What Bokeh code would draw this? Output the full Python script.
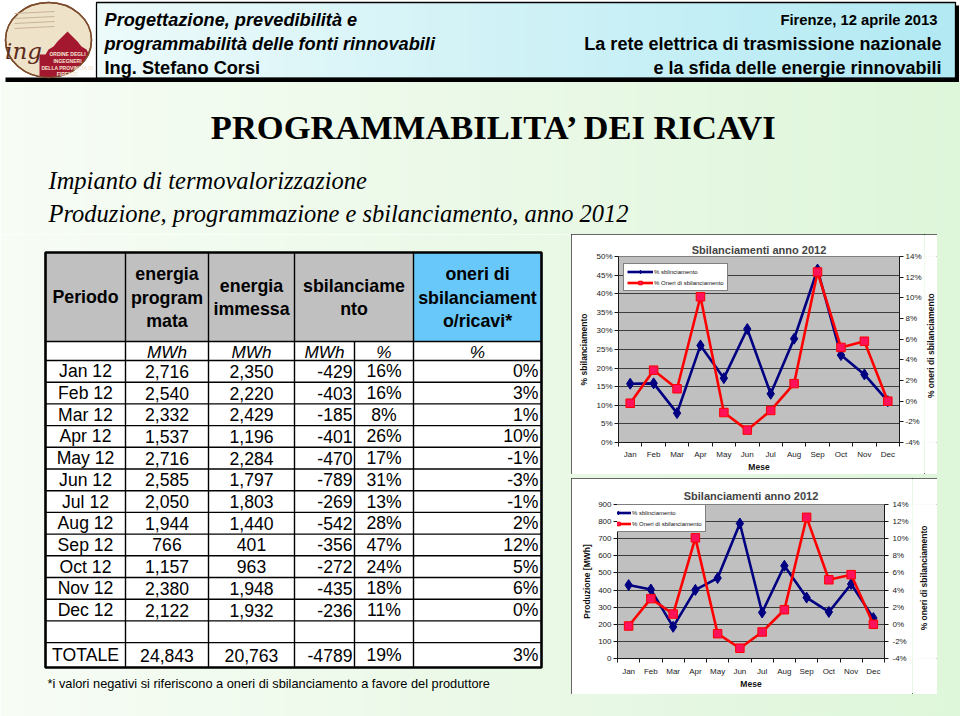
import numpy as np
from bokeh.plotting import figure
from bokeh.models import (Range1d, LinearAxis, FixedTicker, PrintfTickFormatter,
                          Legend, LegendItem, Spacer)
from bokeh.layouts import row, column
from bokeh.core.properties import value
from bokeh.embed import file_html
from bokeh.resources import INLINE

# ---------------- data ----------------
months = ["Jan", "Feb", "Mar", "Apr", "May", "Jun", "Jul", "Aug", "Sep", "Oct", "Nov", "Dec"]
periods = ["Jan 12", "Feb 12", "Mar 12", "Apr 12", "May 12", "Jun 12",
           "Jul 12", "Aug 12", "Sep 12", "Oct 12", "Nov 12", "Dec 12"]
energia_programmata = [2716, 2540, 2332, 1537, 2716, 2585, 2050, 1944, 766, 1157, 2380, 2122]
energia_immessa = [2350, 2220, 2429, 1196, 2284, 1797, 1803, 1440, 401, 963, 1948, 1932]
sbilanciamento_mwh = [-429, -403, -185, -401, -470, -789, -269, -542, -356, -272, -435, -236]
sbilanciamento_pct = [16, 16, 8, 26, 17, 31, 13, 28, 47, 24, 18, 11]
oneri_pct = [0, 3, 1, 10, -1, -3, -1, 2, 12, 5, 6, 0]
totale_row = ["TOTALE", "24,843", "20,763", "-4789", "19%", "3%"]

# series
chart_sbil_pct = [15.8, 15.9, 7.9, 26.1, 17.3, 30.5, 13.1, 27.9, 46.5, 23.5, 18.3, 11.1]
chart_oneri_pct = [-0.2, 3.0, 1.2, 10.1, -1.1, -2.8, -0.9, 1.7, 12.5, 5.2, 5.8, 0.0]
chart_sbil_mwh = [429, 403, 185, 401, 470, 789, 269, 542, 356, 272, 435, 236]

ticks_pct_left = [0, 5, 10, 15, 20, 25, 30, 35, 40, 45, 50]
ticks_mwh = [0, 100, 200, 300, 400, 500, 600, 700, 800, 900]
ticks_oneri = [-4, -2, 0, 2, 4, 6, 8, 10, 12, 14]

# ---------------- page geometry ----------------
SANS = "Liberation Sans"
SERIF = "Liberation Serif"
W, H = 960, 716
BG_L = (247, 252, 245)
BG_R = (222, 246, 218)


def fpx(v):
    return f"{v:.2f}px"


def hexc(c):
    return "#%02x%02x%02x" % tuple(int(round(v)) for v in c)


def mix(c0, c1, t):
    return tuple(a * (1 - t) + b * t for a, b in zip(c0, c1))


def page_fig(x0, x1, y0, y1, flip=True):
    yr = Range1d(y1, y0) if flip else Range1d(y0, y1)
    p = figure(width=int(round(x1 - x0)), height=int(round(y1 - y0)),
               x_range=Range1d(x0, x1), y_range=yr,
               output_backend="svg", toolbar_location=None, tools="",
               x_axis_location=None, y_axis_location=None, min_border=0,
               border_fill_color="white", background_fill_color="white")
    p.grid.visible = False
    p.outline_line_color = None
    return p


def gradient(p, x0, x1, y0, y1, c0, c1, t0, t1, n=80):
    edges = np.linspace(x0, x1, n + 1)
    step = (x1 - x0) / n
    mids = (edges[:-1] + edges[1:]) / 2
    ts = t0 + (t1 - t0) * (mids - x0) / (x1 - x0)
    cols = [hexc(mix(c0, c1, t)) for t in ts]
    p.quad(left=edges[:-1], right=np.minimum(edges[1:] + step * 0.6, x1),
           top=y0, bottom=y1, fill_color=cols, line_color=None)


def txt(p, xs, ys, texts, size, align="left", style="normal", font=SANS,
        color="black", baseline="middle", angle=0.0):
    p.text(x=xs, y=ys, text=texts, text_font=value(font), text_font_size=fpx(size),
           text_font_style=style, text_align=align, text_baseline=baseline,
           text_color=color, angle=angle)


# ---------------- top figure: header + titles ----------------
TOP_H = 234
top = page_fig(0, W, 0, TOP_H)
gradient(top, 0, W, 80, TOP_H, BG_L, BG_R, 0.0, 1.0)

# header box
gradient(top, 96, 955, 2, 78, (236, 250, 250), (178, 233, 243), 0.0, 1.0, n=60)
top.quad(left=[955], right=[958.5], top=[5], bottom=[81], fill_color="black", line_color=None)
top.quad(left=[5], right=[958.5], top=[77], bottom=[81.5], fill_color="black", line_color=None)
top.quad(left=[96], right=[955], top=[2], bottom=[78], fill_color=None,
         line_color="black", line_width=1.3)

# logo
LX, LY, LA, LB = 48.0, 39.5, 43.0, 37.5
top.ellipse(x=[LX], y=[LY], width=[2 * LA], height=[2 * LB], fill_color="#eee2c9",
            line_color="#7b4b2b", line_width=1.5)
t_a = np.arcsin(16.0 / LB)
t_b = np.arccos(-9.0 / LA)
tt = np.linspace(t_a, t_b, 25)
arc_x = list(LX + LA * np.cos(tt))
arc_y = list(LY + LB * np.sin(tt))
dome_x = [39, 39, 45, 48, 53, 57, 61, 67, 73, 77, 81, 86, 88]
dome_y = [arc_y[-1], 54, 54, 49, 46, 41, 37, 31, 37, 41, 46, 49, 53]
top.patch(x=arc_x + dome_x, y=arc_y + dome_y, fill_color="#a3172f", line_color=None)
top.ellipse(x=[LX], y=[LY], width=[2 * LA], height=[2 * LB], fill_color=None,
            line_color="#7b4b2b", line_width=1.5)
for yy in [13, 18, 23, 28]:
    top.line(x=[14, 54], y=[yy, yy - 2], line_color="#c9b596", line_width=1)
txt(top, [23], [50], ["ing"], 23, align="center", style="italic", font="DejaVu Serif",
    color="#5b2a1b")
txt(top, [67, 67, 67, 67], [53, 60.5, 67, 73.5],
    ["ORDINE DEGLI", "INGEGNERI", "DELLA PROVINCIA DI", "FIRENZE"], 5.0,
    align="center", style="bold", color="#f3e7d4")

# header texts
txt(top, [104, 104], [19, 43],
    ["Progettazione, prevedibilità e", "programmabilità delle fonti rinnovabili"],
    18.2, style="bold italic")
txt(top, [104], [67], ["Ing. Stefano Corsi"], 18.2, style="bold")
txt(top, [937], [19], ["Firenze, 12 aprile 2013"], 14.8, align="right", style="bold")
txt(top, [941, 941], [43, 67],
    ["La rete elettrica di trasmissione nazionale", "e la sfida delle energie rinnovabili"],
    18.0, align="right", style="bold")

# slide titles
txt(top, [494], [126], ["PROGRAMMABILITA\u2019 DEI RICAVI"], 34.5, align="center",
    style="bold", font=SERIF)
txt(top, [48], [180], ["Impianto di termovalorizzazione"], 24.5, style="italic", font=SERIF)
txt(top, [48], [213], ["Produzione, programmazione e sbilanciamento, anno 2012"], 24.5,
    style="italic", font=SERIF)

# ---------------- left figure: table ----------------
LEFT_W = 571
left = page_fig(0, LEFT_W, TOP_H, H)
gradient(left, 0, LEFT_W, TOP_H, H, BG_L, BG_R, 0.0, LEFT_W / W, n=50)

cols = [45, 125, 208, 294, 354, 413, 541]
y_head_top, y_head_bot, y_units_bot = 252.0, 341.0, 360.0
row_h = 21.7
n_rows = len(periods)
row_edges = [y_units_bot + i * row_h for i in range(n_rows + 1)]
y_empty_bot = row_edges[-1] + row_h
y_bottom = 667.0
row_centers = [(row_edges[i] + row_edges[i + 1]) / 2 for i in range(n_rows)]
col_c = [(cols[i] + cols[i + 1]) / 2 for i in range(6)]
sbil_c = (cols[3] + cols[5]) / 2

left.quad(left=[cols[0]], right=[cols[6]], top=[y_head_bot], bottom=[y_bottom],
          fill_color="white", line_color=None)
left.quad(left=[cols[0]], right=[cols[5]], top=[y_head_top], bottom=[y_head_bot],
          fill_color="#c0c0c0", line_color=None)
left.quad(left=[cols[5]], right=[cols[6]], top=[y_head_top], bottom=[y_head_bot],
          fill_color="#68c8fa", line_color=None)

h_lines = [y_head_bot, y_units_bot] + row_edges[1:] + [y_empty_bot]
left.segment(x0=[cols[0]] * len(h_lines), x1=[cols[6]] * len(h_lines), y0=h_lines,
             y1=h_lines, line_color="black", line_width=1.4)
v_cols = [cols[1], cols[2], cols[3], cols[5]]
left.segment(x0=v_cols, x1=v_cols, y0=[y_head_top] * 4, y1=[y_bottom] * 4,
             line_color="black", line_width=1.4)
left.segment(x0=[cols[4]], x1=[cols[4]], y0=[y_head_bot], y1=[y_bottom],
             line_color="black", line_width=1.4)
left.quad(left=[cols[0]], right=[cols[6]], top=[y_head_top], bottom=[y_bottom],
          fill_color=None, line_color="black", line_width=2.6)

# header text
HB = 17.8
txt(left, [col_c[0]], [296.5], ["Periodo"], HB, align="center", style="bold")
txt(left, [col_c[1]] * 3, [273.5, 297, 320.5], ["energia", "program", "mata"], HB,
    align="center", style="bold")
txt(left, [col_c[2]] * 2, [285, 308.5], ["energia", "immessa"], HB, align="center",
    style="bold")
txt(left, [sbil_c] * 2, [285, 308.5], ["sbilanciame", "nto"], HB, align="center",
    style="bold")
txt(left, [col_c[5]] * 3, [273.5, 297, 320.5], ["oneri di", "sbilanciament", "o/ricavi*"],
    HB, align="center", style="bold")

ym = (y_head_bot + y_units_bot) / 2 + 0.5
txt(left, [col_c[1], col_c[2], col_c[3], col_c[4], col_c[5]], [ym] * 5,
    ["MWh", "MWh", "MWh", "%", "%"], 17.2, align="center", style="italic")

DS = 17.6
txt(left, [col_c[0]] * n_rows, row_centers, periods, DS, align="center")
txt(left, [col_c[1]] * n_rows, row_centers, [f"{v:,}" for v in energia_programmata], DS,
    align="center")
txt(left, [col_c[2]] * n_rows, row_centers, [f"{v:,}" for v in energia_immessa], DS,
    align="center")
txt(left, [cols[4] - 2] * n_rows, row_centers, [f"{v}" for v in sbilanciamento_mwh], DS,
    align="right")
txt(left, [col_c[4]] * n_rows, row_centers, [f"{v}%" for v in sbilanciamento_pct], DS,
    align="center")
txt(left, [cols[6] - 3] * n_rows, row_centers, [f"{v}%" for v in oneri_pct], DS,
    align="right")

yt = (y_empty_bot + y_bottom) / 2
txt(left, [col_c[0], col_c[1], col_c[2]], [yt] * 3, totale_row[:3], DS, align="center")
txt(left, [cols[4] - 2], [yt], [totale_row[3]], DS, align="right")
txt(left, [col_c[4]], [yt], [totale_row[4]], DS, align="center")
txt(left, [cols[6] - 3], [yt], [totale_row[5]], DS, align="right")

txt(left, [47], [683],
    ["*i valori negativi si riferiscono a oneri di sbilanciamento a favore del produttore"],
    12.8)

# ---------------- charts ----------------
RIGHT_W = W - LEFT_W
FRAME_R = 937
x_idx = list(range(len(months)))
OUTLINE = {"outline": "1.5px solid #333333", "outline-offset": "-1.5px"}


def style_axis(ax, label_standoff, tick_standoff):
    ax.axis_line_color = "#1a1a1a"
    ax.axis_line_width = 1
    ax.major_tick_line_color = "#1a1a1a"
    ax.major_tick_out = 4
    ax.major_tick_in = 0
    ax.minor_tick_line_color = None
    ax.major_label_text_font = SANS
    ax.major_label_text_font_size = "8px"
    ax.major_label_text_color = "#1a1a1a"
    ax.major_label_standoff = tick_standoff
    ax.axis_label_text_font = SANS
    ax.axis_label_text_font_size = "8.5px"
    ax.axis_label_text_font_style = "bold"
    ax.axis_label_text_color = "#111111"
    ax.axis_label_standoff = label_standoff


def make_chart(width, h, borders, y_range, left_ticks, left_label, blue_vals, legend_loc,
               title_standoff, left_std, right_std, x_std):
    bl_, br_, bt_, bb_ = borders
    p = figure(width=width, height=h, x_range=Range1d(-0.5, 11.5), y_range=Range1d(*y_range),
               output_backend="svg", toolbar_location=None, tools="",
               min_border_left=bl_, min_border_right=br_, min_border_top=bt_,
               min_border_bottom=bb_,
               background_fill_color="#c0c0c0", border_fill_color="white",
               title="Sbilanciamenti anno 2012")
    p.title.align = "center"
    p.title.text_font = SANS
    p.title.text_font_size = "11px"
    p.title.text_font_style = "bold"
    p.title.standoff = title_standoff
    p.outline_line_color = "#808080"
    p.xgrid.visible = False
    p.ygrid.ticker = FixedTicker(ticks=left_ticks)
    p.ygrid.grid_line_color = "#2e2e2e"
    p.ygrid.grid_line_width = 0.9

    p.yaxis.ticker = FixedTicker(ticks=left_ticks)
    if left_ticks[-1] <= 50:
        p.yaxis.formatter = PrintfTickFormatter(format="%d%%")
    p.yaxis.axis_label = left_label
    style_axis(p.yaxis[0], left_std[0], left_std[1])

    p.xaxis.ticker = FixedTicker(ticks=x_idx, minor_ticks=[i - 0.5 for i in range(13)])
    p.xaxis.major_label_overrides = {i: m for i, m in enumerate(months)}
    p.xaxis.axis_label = "Mese"
    style_axis(p.xaxis[0], x_std[0], x_std[1])
    p.xaxis.major_tick_line_color = None
    p.xaxis.major_tick_out = 0
    p.xaxis.minor_tick_line_color = "#1a1a1a"
    p.xaxis.minor_tick_out = 4
    p.xaxis.minor_tick_in = 0

    p.extra_y_ranges = {"oneri": Range1d(-4, 14)}
    ra = LinearAxis(y_range_name="oneri", ticker=FixedTicker(ticks=ticks_oneri),
                    formatter=PrintfTickFormatter(format="%d%%"))
    style_axis(ra, 0, right_std)
    p.add_layout(ra, "right")

    bline = p.line(x_idx, blue_vals, line_color="#000080", line_width=2.6)
    bmark = p.scatter(x_idx, blue_vals, marker="diamond", size=11, fill_color="#000080",
                      line_color="#000080")
    rline = p.line(x_idx, chart_oneri_pct, y_range_name="oneri", line_color="#ff0000",
                   line_width=2.6)
    rmark = p.scatter(x_idx, chart_oneri_pct, y_range_name="oneri", marker="square",
                      size=8.5, fill_color="#ff1259", line_color="#ff0000", line_width=1)

    leg = Legend(items=[LegendItem(label="% sblinciamento", renderers=[bline, bmark]),
                        LegendItem(label="% Oneri di sbilanciamento", renderers=[rline, rmark])],
                 location=legend_loc, orientation="vertical",
                 background_fill_color="white", background_fill_alpha=1.0,
                 border_line_color="black", border_line_width=0.8,
                 label_text_font=SANS, label_text_font_size="6px",
                 label_text_color="#111111",
                 glyph_width=26, glyph_height=9, label_height=9, label_standoff=1,
                 padding=3, spacing=2, margin=0)
    p.add_layout(leg)
    return p


def right_label_fig(width, h, x_center, y_center_from_bottom):
    lf = page_fig(0, width, 0, h, flip=False)
    txt(lf, [x_center], [y_center_from_bottom], ["% oneri di sbilanciamento"], 8.5,
        align="center", style="bold", color="#111111", angle=float(np.pi / 2))
    return lf


C1_H, GAP_H, C2_H = 240, 4, 216
BOT_H = (H - TOP_H) - C1_H - GAP_H - C2_H

# chart 1: frame 618..900 x 256..442 ; chart 2: frame 617..884 x 504..658
C1_RIGHT = 924
C2_RIGHT = 912
c1 = make_chart(C1_RIGHT - LEFT_W, C1_H, (47, C1_RIGHT - 900, 22, 32), (0, 50),
                ticks_pct_left, "% sbilanciamento", chart_sbil_pct, (5, 151), 2,
                (4, 2), 2, (0, 3))
c2 = make_chart(C2_RIGHT - LEFT_W, C2_H, (46, C2_RIGHT - 884, 26, 36), (0, 900),
                ticks_mwh, "Produzione [MWh]", chart_sbil_mwh, (-16, 126), 5,
                (3, 2), 4, (0, 4))
l1 = right_label_fig(FRAME_R - C1_RIGHT, C1_H, 930 - C1_RIGHT, C1_H - (349 - TOP_H))
l2 = right_label_fig(FRAME_R - C2_RIGHT, C2_H, 923 - C2_RIGHT, C2_H - (581 - 478))

c_from = hexc(mix(BG_L, BG_R, LEFT_W / W))
c_to = hexc(BG_R)
right_col = column(
    row(row(c1, l1, styles=OUTLINE), Spacer(width=W - FRAME_R, height=C1_H)),
    Spacer(width=RIGHT_W, height=GAP_H),
    row(row(c2, l2, styles=OUTLINE), Spacer(width=W - FRAME_R, height=C2_H)),
    Spacer(width=RIGHT_W, height=BOT_H),
    styles={"background": f"linear-gradient(90deg, {c_from}, {c_to})"},
)

page = column(top, row(left, right_col))

open("out.html", "w").write(file_html(page, INLINE))
